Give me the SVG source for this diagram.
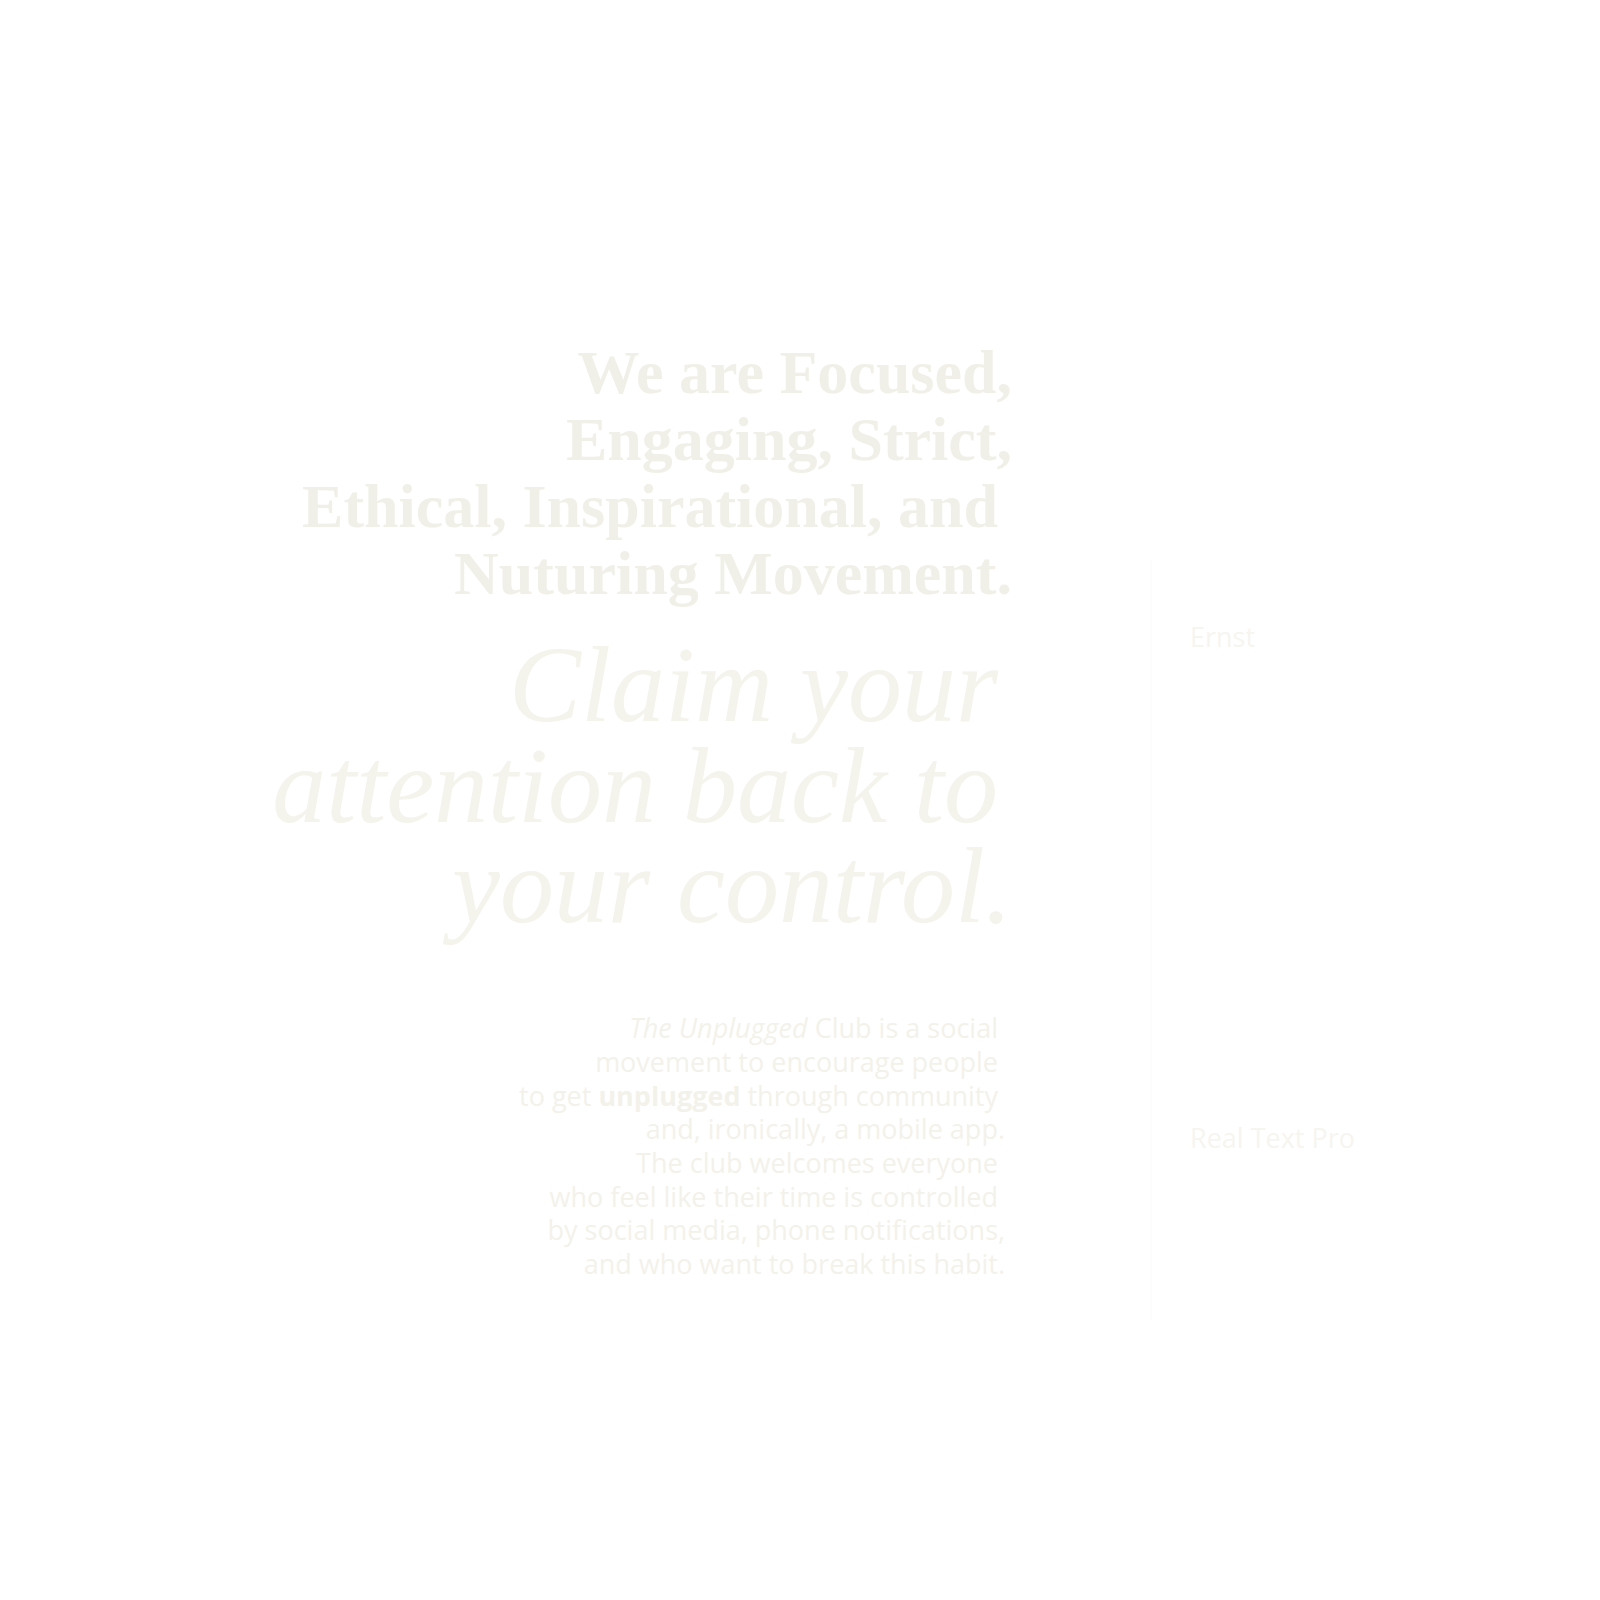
<svg xmlns="http://www.w3.org/2000/svg" width="1600" height="1600" viewBox="0 0 1600 1600">
<style>
.h{font-family:"Liberation Serif",serif;font-weight:bold;font-size:62px;fill:#f1f0e8;text-anchor:end}
.c{font-family:"Liberation Serif",serif;font-style:italic;font-size:108px;fill:#f4f3ec;text-anchor:end}
.b{font-family:"Open Sans","Liberation Sans",sans-serif;font-size:27px;fill:#f3f2ea;text-anchor:end}
.l{font-family:"Open Sans","Liberation Sans",sans-serif;font-size:27px;fill:#f6f5f0}
</style>
<rect width="1600" height="1600" fill="#fff"/>
<line x1="1151" y1="560" x2="1151" y2="1320" stroke="#fafafa" stroke-width="1"/>
<g id="headline">
<text class="h" x="1012" y="393">We are Focused,</text>
<text class="h" x="1012" y="460">Engaging, Strict,</text>
<text class="h" x="998" y="527">Ethical, Inspirational, and</text>
<text class="h" x="1012" y="594">Nuturing Movement.</text>
</g>
<g id="claim">
<text class="c" x="998" y="721">Claim your</text>
<text class="c" x="998" y="822">attention back to</text>
<text class="c" x="1012" y="922">your control.</text>
</g>
<g id="body">
<text class="b" x="998" y="1038"><tspan font-style="italic">The Unplugged</tspan> Club is a social</text>
<text class="b" x="998" y="1072">movement to encourage people</text>
<text class="b" x="998" y="1106">to get <tspan font-weight="bold">unplugged</tspan> through community</text>
<text class="b" x="1005" y="1139">and, ironically, a mobile app.</text>
<text class="b" x="998" y="1173">The club welcomes everyone</text>
<text class="b" x="998" y="1207">who feel like their time is controlled</text>
<text class="b" x="1005" y="1240">by social media, phone notifications,</text>
<text class="b" x="1005" y="1274">and who want to break this habit.</text>
</g>
<g id="labels">
<text class="l" x="1190" y="647">Ernst</text>
<text class="l" x="1190" y="1148">Real Text Pro</text>
</g>
</svg>
